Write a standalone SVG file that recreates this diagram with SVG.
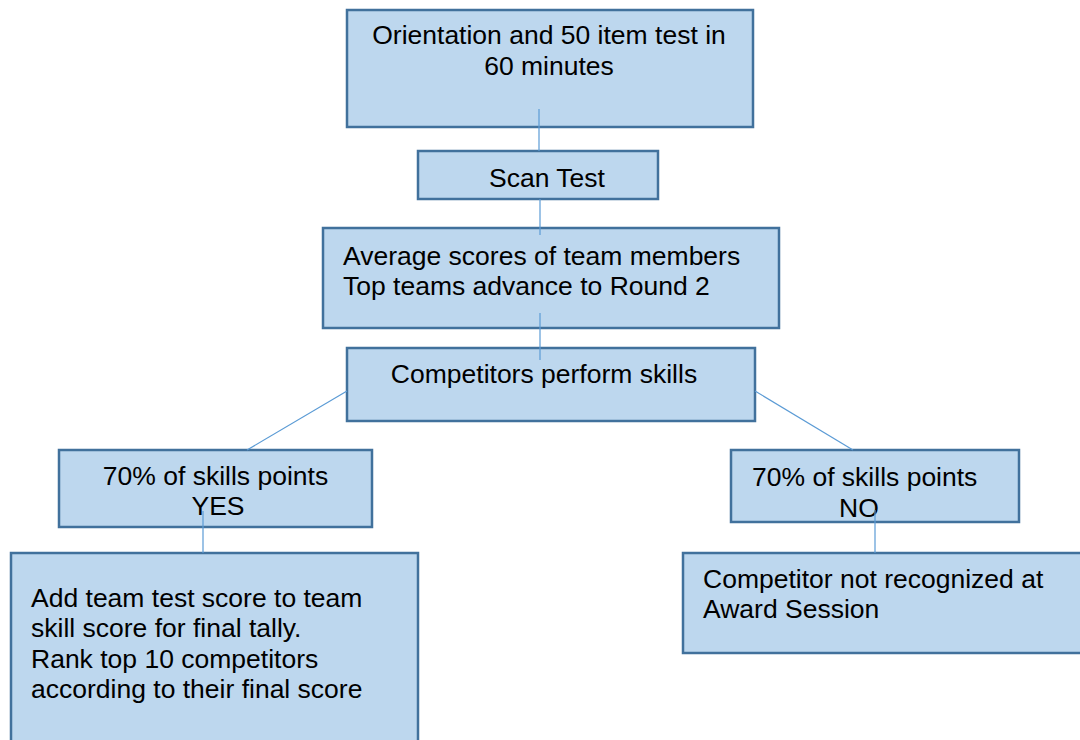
<svg xmlns="http://www.w3.org/2000/svg" width="1080" height="740" viewBox="0 0 1080 740">
<style>
.box{fill:#BDD7EE;stroke:#41719C;stroke-width:2.5}
.t{font-family:"Liberation Sans",Arial,sans-serif;font-size:26.5px;fill:#000}
.c{text-anchor:middle}
.ln{stroke:#5B9BD5;stroke-width:1.2;fill:none}
</style>
<rect x="0" y="0" width="1080" height="740" fill="#fff"/>
<g id="n1"><rect class="box" x="347" y="10" width="406" height="117"/>
<text class="t c" x="549" y="44">Orientation and 50 item test in</text>
<text class="t c" x="549" y="75">60 minutes</text></g>
<g id="n2"><rect class="box" x="418" y="151" width="240" height="48"/>
<text class="t c" x="547" y="187">Scan Test</text></g>
<g id="n3"><rect class="box" x="323" y="228" width="456" height="100"/>
<text class="t" x="343" y="265">Average scores of team members</text>
<text class="t" x="343" y="295">Top teams advance to Round 2</text></g>
<g id="n4"><rect class="box" x="347" y="348" width="408" height="73"/>
<text class="t c" x="544" y="383">Competitors perform skills</text></g>
<g id="n5"><rect class="box" x="59" y="450" width="313" height="77"/>
<text class="t c" x="215.5" y="485">70% of skills points</text>
<text class="t c" x="218" y="515">YES</text></g>
<g id="n6"><rect class="box" x="11" y="553" width="407" height="200"/>
<text class="t" x="31" y="607">Add team test score to team</text>
<text class="t" x="31" y="637">skill score for final tally.</text>
<text class="t" x="31" y="668">Rank top 10 competitors</text>
<text class="t" x="31" y="698">according to their final score</text></g>
<g id="n7"><rect class="box" x="731" y="450" width="288" height="72"/>
<text class="t" x="752" y="486">70% of skills points</text>
<text class="t" x="839" y="517">NO</text></g>
<g id="n8"><rect class="box" x="683" y="553" width="410" height="100"/>
<text class="t" x="703" y="588">Competitor not recognized at</text>
<text class="t" x="703" y="618">Award Session</text></g>
<g id="connectors">
<line class="ln" x1="539" y1="109" x2="539" y2="151"/>
<line class="ln" x1="540" y1="199" x2="540" y2="235"/>
<line class="ln" x1="540" y1="313" x2="540" y2="360"/>
<line class="ln" x1="347" y1="391" x2="247" y2="450"/>
<line class="ln" x1="755" y1="391" x2="853" y2="450"/>
<line class="ln" x1="203" y1="511" x2="203" y2="553"/>
<line class="ln" x1="875" y1="510" x2="875" y2="553"/>
</g>
</svg>
